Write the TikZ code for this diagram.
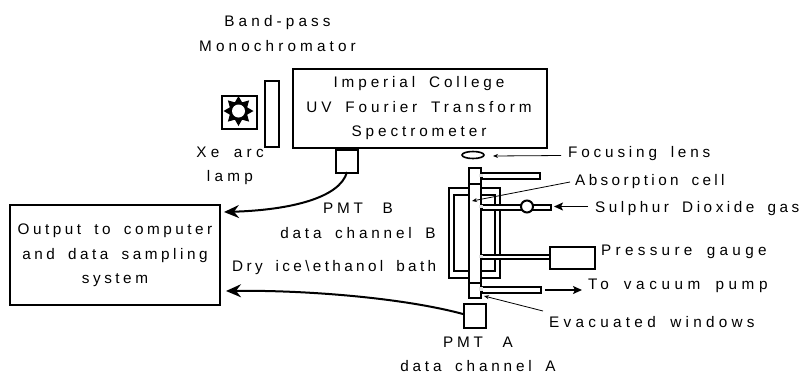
\documentclass[tikz,border=0pt]{standalone}
\usepackage{fontspec}
\setmainfont[WordSpace=1.7]{Liberation Sans}
\usetikzlibrary{arrows.meta,shapes.geometric,shapes.misc}
\tikzset{
 box/.style={draw,line width=2pt,inner sep=0pt,anchor=north west,fill=white},
 tube/.style={draw,line width=1.9pt,inner sep=0pt,anchor=north west,fill=white},
 lbl/.style={inner sep=0pt,align=center,font=\fontsize{15.3pt}{24.5pt}\selectfont\addfontfeature{LetterSpace=#1}},
 lbll/.style={lbl=#1,anchor=west},
 thinarrow/.style={line width=0.8pt,-{Stealth[length=5pt,width=4pt]}},
 midarrow/.style={line width=1.6pt,-{Stealth[length=9pt,width=8pt,inset=2pt]}},
 bigarrow/.style={line width=2pt,-{Stealth[length=15pt,width=13pt,inset=5pt]}},
}
\newcommand{\bx}[5][box]{\node[#1,minimum width=#4pt,minimum height=#5pt] (#2) at #3 {};}
\begin{document}
\begin{tikzpicture}[x=1pt,y=-1pt]
\useasboundingbox (0,0) rectangle (804,373);
% spectrometer group
\bx{spec}{(292,68)}{254}{79}
\bx{mono}{(264,80)}{14}{66}
\bx{lamp}{(221,95)}{35}{33}
\node[star,star points=8,star point ratio=1.6,fill=black,minimum size=30pt,inner sep=0pt] (starshape) at (238.5,111) {};
\node[circle,fill=white,minimum size=13pt,inner sep=0pt] (starcore) at (238.5,111) {};
\bx{pmtb}{(335,149)}{22}{23}
\bx{output}{(9,204)}{210}{100}
% bath
\bx{bathouter}{(448,187)}{51}{90}
\bx{bathinner}{(453,194)}{41}{76}
% cell
\bx{captop}{(468,167)}{12}{16}
\bx{cell}{(468,183)}{12}{99}
\bx{capbot}{(468,282)}{12}{15}
% arms
\bx[tube]{armtop}{(481,172)}{58}{6}
\bx[tube]{armso}{(481,204)}{69}{5}
\bx[tube]{armp}{(481,254)}{68}{4}
\bx[tube]{armbot}{(481,286)}{59}{6}
\fill[white!80!gray] (478.5,173.5) rectangle (482.5,176.5);
\fill[white!80!gray] (478.5,205) rectangle (482.5,208);
\fill[white!80!gray] (478.5,255) rectangle (482.5,258);
\fill[white!80!gray] (478.5,287) rectangle (482.5,291);
\node[circle,draw,line width=2pt,fill=white,minimum size=12pt,inner sep=0pt] (valve) at (527,206.5) {};
\bx{gauge}{(549,246)}{45}{22}
\node[ellipse,draw,line width=1.6pt,minimum width=22pt,minimum height=7pt,inner sep=0pt] (lens) at (473,155) {};
\bx{pmta}{(463,303)}{22}{24}
% text
\node[lbl=27] (tmono) at (277.5,33.5) {Band-pass\\Monochromator};
\node[lbl=25.5] (tspec) at (419,108.5) {Imperial College\\UV Fourier Transform\\Spectrometer};
\node[lbl=28] (txe) at (230,166) {Xe arc\\lamp};
\node[lbl=23] (tout) at (115,255.5) {Output to computer\\and data sampling\\system};
\node[lbl=25] (tpmtb) at (358,221) {PMT\hspace{6pt} B\\data channel B};
\node[lbl=25] (tpmta) at (478,354.5) {PMT\hspace{6pt} A\\data channel A};
\node[lbll=22] (tdry) at (232,268) {Dry ice\textbackslash ethanol bath};
\node[lbll=25] (tfoc) at (568,153.5) {Focusing lens};
\node[lbll=22] (tabs) at (575,181.5) {Absorption cell};
\node[lbll=23] (tso) at (595,208.5) {Sulphur Dioxide gas};
\node[lbll=28] (tpg) at (601,251.5) {Pressure gauge};
\node[lbll=30] (tvac) at (588,285.5) {To vacuum pump};
\node[lbll=28] (teva) at (549,322.5) {Evacuated windows};
% connectors
\coordinate (pb) at (347,172);
\coordinate (pa) at (463,314);
\coordinate (outa) at (224,212);
\coordinate (outb) at (226,291);
\draw[bigarrow] (pb) .. controls (340,198) and (290,210) .. (outa);
\draw[bigarrow] (pa) .. controls (400,297) and (300,290) .. (outb);
\coordinate (cellp) at (472,201);
\coordinate (winp) at (484,296);
\coordinate (lensp) at (493,156);
\coordinate (lensl) at (561,155.5);
\coordinate (absl) at (570,182);
\coordinate (vacs) at (545,290);
\coordinate (vace) at (582,290);
\coordinate (soe) at (554,206.5);
\coordinate (sos) at (588,206.5);
\coordinate (eval) at (543,311);
\draw[thinarrow] (lensl) -- (lensp);
\draw[thinarrow] (absl) -- (cellp);
\draw[midarrow] (sos) -- (soe);
\draw[midarrow] (vacs) -- (vace);
\draw[thinarrow] (eval) -- (winp);
\end{tikzpicture}
\end{document}
